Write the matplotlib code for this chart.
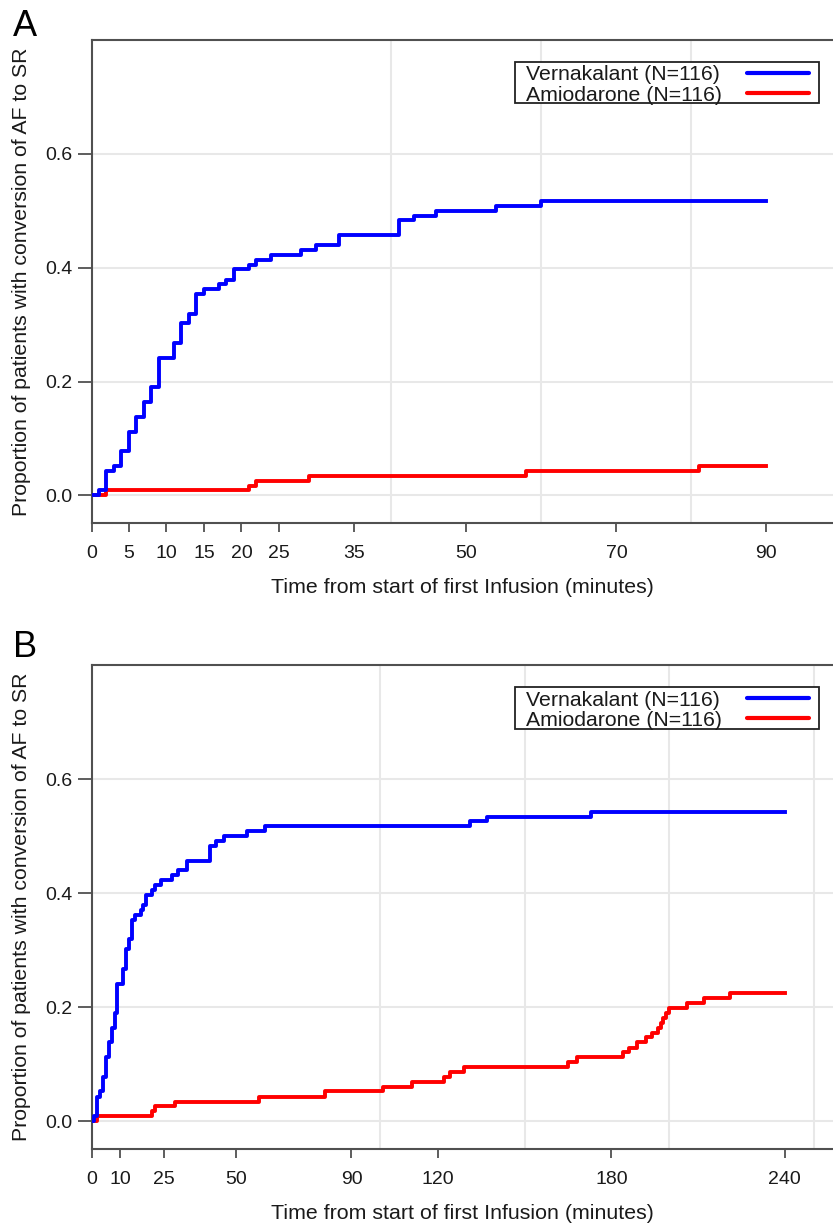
import matplotlib
matplotlib.use("Agg")
import matplotlib.pyplot as plt
from matplotlib.ticker import MultipleLocator, FixedLocator
from matplotlib.patches import Rectangle
from matplotlib.lines import Line2D

plt.rcParams['font.family'] = ['Liberation Sans', 'DejaVu Sans']

# ---- data ----
vern_time = [0, 1, 2, 3, 4, 5, 6, 7, 8, 9, 11, 12, 13, 14, 15, 17, 18, 19, 21, 22,
             24, 28, 30, 33, 41, 43, 46, 54, 60, 131, 137, 173]
vern_prop = [0.0, 0.009, 0.043, 0.052, 0.078, 0.112, 0.138, 0.164, 0.190, 0.241,
             0.267, 0.302, 0.319, 0.353, 0.362, 0.371, 0.379, 0.397, 0.405, 0.414,
             0.422, 0.431, 0.440, 0.457, 0.483, 0.491, 0.500, 0.509, 0.517, 0.526,
             0.534, 0.543]

amio_time = [0, 2, 21, 22, 29, 58, 81, 101, 111, 122, 124, 129, 165, 168, 184, 186,
             189, 192, 194, 196, 197, 198, 199, 200, 206, 212, 221]
amio_prop = [0.0, 0.009, 0.017, 0.026, 0.034, 0.043, 0.052, 0.060, 0.069, 0.078,
             0.086, 0.095, 0.103, 0.112, 0.121, 0.129, 0.138, 0.147, 0.155, 0.164,
             0.172, 0.181, 0.190, 0.198, 0.207, 0.216, 0.224]

labels = ["Vernakalant (N=116)", "Amiodarone (N=116)"]
colors = ['#0000ff', '#ff0000']
ticks_A = [0, 5, 10, 15, 20, 25, 35, 50, 70, 90]
ticks_B = [0, 10, 25, 50, 90, 120, 180, 240]
end_A = 90
end_B = 240
yticks = [0.0, 0.2, 0.4, 0.6]
xlabel = "Time from start of first Infusion (minutes)"
ylabel = "Proportion of patients with conversion of AF to SR"

W, H = 833, 1223
fig = plt.figure(figsize=(W / 100, H / 100), dpi=100)

spine_col = '#505050'
grid_col = '#e8e8e8'
text_col = '#1a1a1a'
LEFT = 91.5


def truncate(t, p, end):
    tt = [x for x in t if x <= end]
    pp = p[:len(tt)]
    return tt + [end], pp + [pp[-1]]


def px_to_axes(ax, top_px, bot_px, x, y):
    return (x - LEFT) / (W - LEFT), (bot_px - y) / (bot_px - top_px)


def panel(top_px, bot_px, xmax, ticks, end, grid_step, letter, letter_base, leg_top_px):
    ax = fig.add_axes([LEFT / W, 1 - bot_px / H, (W - LEFT) / W, (bot_px - top_px) / H])
    vt, vp = truncate(vern_time, vern_prop, end)
    at, ap = truncate(amio_time, amio_prop, end)
    ax.step(at, ap, where='post', color=colors[1], lw=2.8, zorder=3)
    ax.step(vt, vp, where='post', color=colors[0], lw=2.8, zorder=4)
    ax.set_xlim(0, xmax)
    ax.set_ylim(-0.049, 0.8)
    ax.xaxis.set_major_locator(FixedLocator(ticks))
    ax.xaxis.set_minor_locator(MultipleLocator(grid_step))
    ax.yaxis.set_major_locator(FixedLocator(yticks))
    ax.set_yticklabels([f"{v:.1f}" for v in yticks])
    ax.grid(False)
    ax.grid(True, which='minor', axis='x', color=grid_col, lw=1.5, zorder=0)
    ax.grid(True, which='major', axis='y', color=grid_col, lw=1.5, zorder=0)
    ax.set_axisbelow(True)
    ax.tick_params(axis='x', which='major', length=6.5, width=1.3, color=spine_col,
                   labelsize=14, pad=9, labelcolor=text_col)
    ax.tick_params(axis='y', which='major', length=10, width=1.3, color=spine_col,
                   labelsize=14, pad=3.5, labelcolor=text_col)
    ax.tick_params(which='minor', length=0)
    for s in ['left', 'bottom', 'top']:
        ax.spines[s].set_color(spine_col)
        ax.spines[s].set_linewidth(1.5)
    ax.spines['right'].set_visible(False)
    ax.set_xlabel(xlabel, fontsize=15.4, color=text_col, labelpad=12)
    ax.set_ylabel(ylabel, fontsize=15.3, color=text_col)
    ax.yaxis.set_label_coords(-0.082, 0.5)

    # legend box (text left, line sample right), as in the reference
    bx0, bx1 = 515, 819.3
    by0 = leg_top_px
    by1 = leg_top_px + 41.3
    x0, y0 = px_to_axes(ax, top_px, bot_px, bx0, by1)
    x1, y1 = px_to_axes(ax, top_px, bot_px, bx1, by0)
    ax.add_patch(Rectangle((x0, y0), x1 - x0, y1 - y0, transform=ax.transAxes,
                           facecolor='white', edgecolor='#222222', lw=1.3, zorder=6))
    row_y = [leg_top_px + 10.6, leg_top_px + 31.0]
    for lab, col, ry in zip(labels, colors, row_y):
        tx, ty = px_to_axes(ax, top_px, bot_px, 526.5, ry + 7.6)
        ax.text(tx, ty, lab, transform=ax.transAxes, fontsize=15.3, va='baseline',
                ha='left', color=text_col, zorder=7)
        lx0, ly = px_to_axes(ax, top_px, bot_px, 747.3, ry)
        lx1, _ = px_to_axes(ax, top_px, bot_px, 809.3, ry)
        ax.add_line(Line2D([lx0, lx1], [ly, ly], transform=ax.transAxes, color=col,
                           lw=3.0, solid_capstyle='round', zorder=7))

    fig.text(13 / W, 1 - letter_base / H, letter, fontsize=26, va='baseline', ha='left')
    return ax


panel(40, 523.3, 98.88, ticks_A, end_A, 20, 'A', 36, 62)
panel(665, 1149, 256.7, ticks_B, end_B, 50, 'B', 656.7, 687.3)

fig.savefig('out.png', dpi=100)
